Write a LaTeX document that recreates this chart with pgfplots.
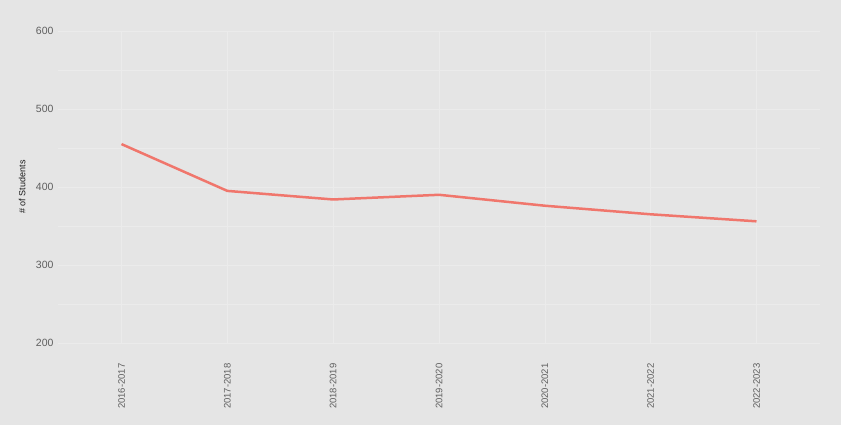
\documentclass[border=0pt]{standalone}
\usepackage{pgfplots}
\pgfplotsset{compat=1.18}
\usepackage{fontspec}
\setmainfont{Liberation Sans}
\definecolor{bggray}{RGB}{229,229,229}
\definecolor{gridc}{RGB}{235,235,235}
\definecolor{linec}{RGB}{240,118,108}
\definecolor{tickc}{RGB}{95,95,95}
\begin{document}
\begin{tikzpicture}
\fill[bggray] (0,0) rectangle (841pt,425pt);
\begin{axis}[
  at={(58pt,82pt)}, anchor=south west,
  scale only axis, width=762pt, height=312pt,
  xmin=-0.6, xmax=6.6, ymin=200, ymax=600,
  axis line style={draw=none},
  xtick={0,1,2,3,4,5,6},
  xticklabels={2016-2017,2017-2018,2018-2019,2019-2020,2020-2021,2021-2022,2022-2023},
  ytick={200,300,400,500,600},
  minor ytick={250,350,450,550},
  grid=both,
  major grid style={gridc, line width=0.6pt},
  minor grid style={gridc, line width=0.4pt},
  tick style={draw=none},
  /pgf/number format/assume math mode=true,
  x tick label style={rotate=90, anchor=east, font=\fontsize{9.5}{10}\selectfont, text=tickc, xshift=-17pt},
  y tick label style={font=\fontsize{10.5}{11}\selectfont, text=tickc, xshift=-1pt},
  ylabel={\# of Students},
  ylabel style={at={(axis description cs:-0.047,0.5)}, anchor=center, font=\fontsize{9}{10}\selectfont, text=black!90},
  clip=false,
]
\addplot[linec, line width=2.5pt, line join=round] coordinates {
  (0,455) (1,395) (2,384) (3,390) (4,376) (5,365) (6,356)
};
\end{axis}
\end{tikzpicture}
\end{document}
